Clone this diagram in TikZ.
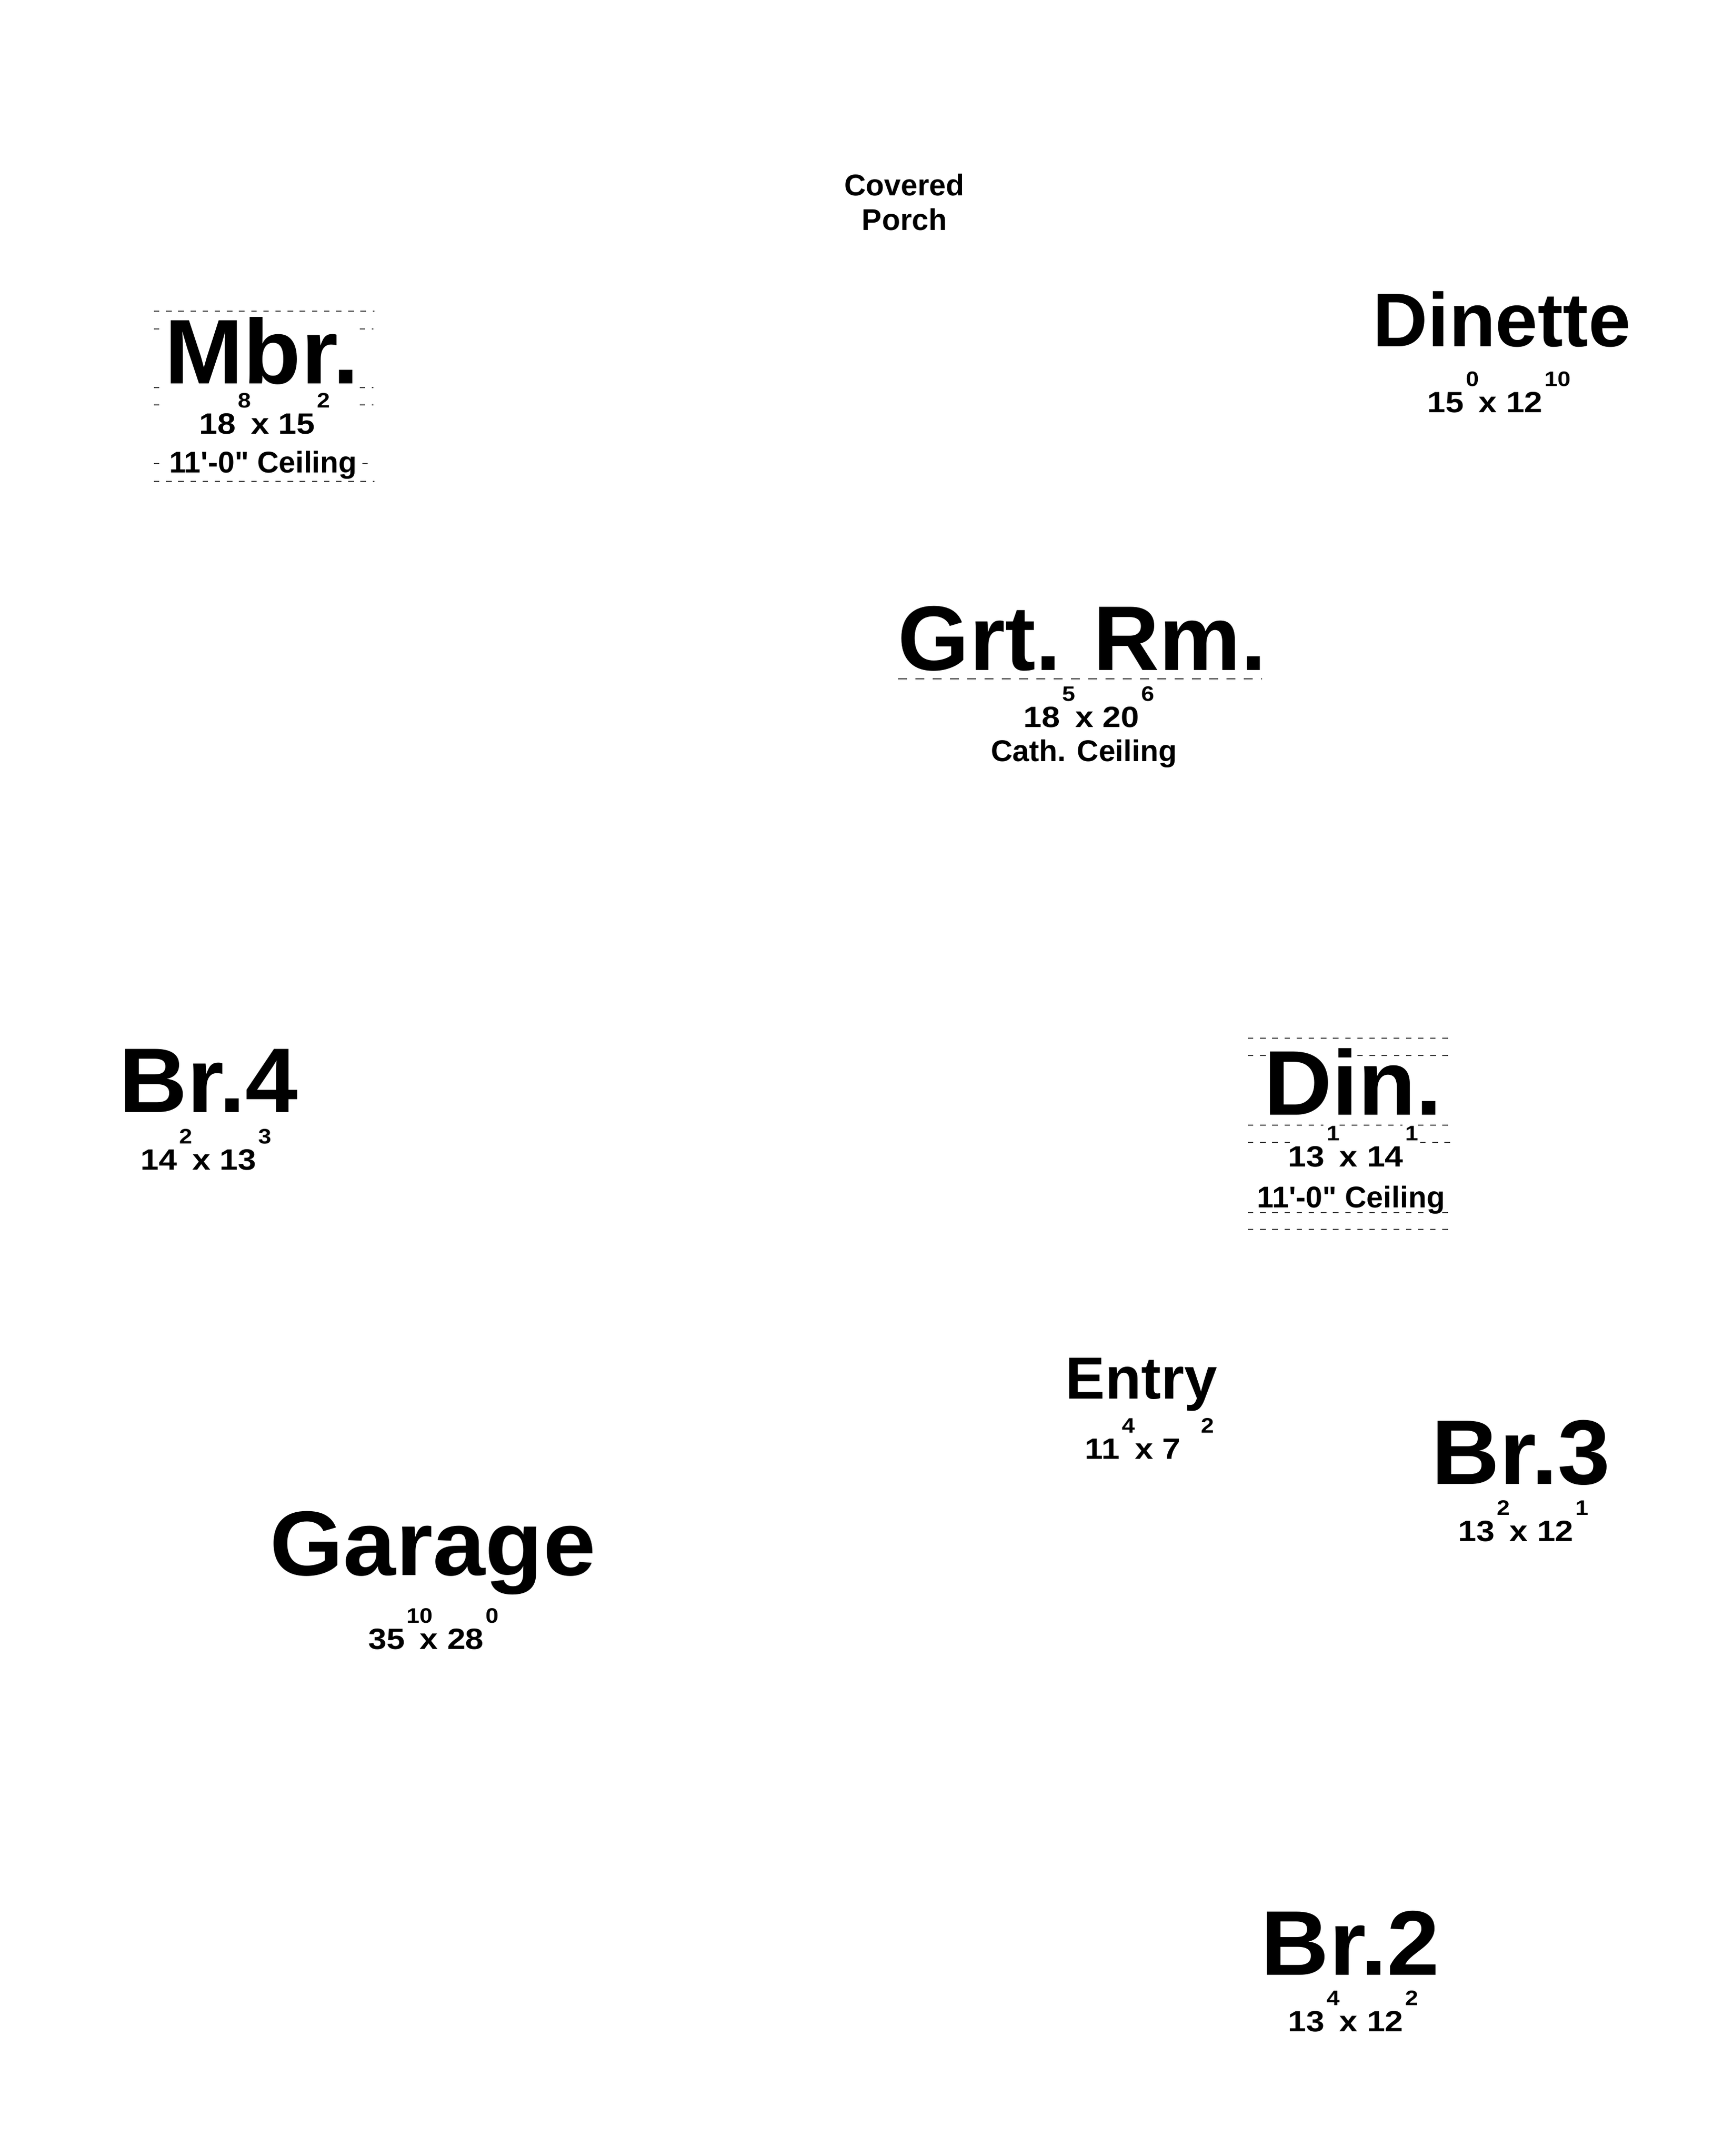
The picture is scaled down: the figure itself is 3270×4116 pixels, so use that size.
\documentclass[tikz,border=0pt]{standalone}
\usepackage{fontspec}
\newfontfamily\lsans{Liberation Sans}
\newfontfamily\bigf{Liberation Sans}[FakeStretch=1.03]
\newfontfamily\dimf{Liberation Sans}[FakeStretch=1.12]
\newcommand\supd[1]{\raisebox{12.5pt}{\fontsize{10}{10}\selectfont #1}}
\newcommand\dimn[4]{{\dimf\bfseries\fontsize{14}{16}\selectfont #1\kern1pt\makebox[6.2pt][l]{\supd{#2}}x #3\kern1pt\supd{#4}}}
\begin{document}
\begin{tikzpicture}[x=0.25pt,y=-0.25pt,
  lbl/.style={anchor=base,inner sep=0pt},
  big/.style={lbl,font=\bigf\bfseries\fontsize{43.8}{48}\selectfont},
  small/.style={lbl,font=\lsans\bfseries\fontsize{14.3}{16}\selectfont},
  dims/.style={lbl},
  gl/.style={draw=black!75,line width=0.4pt,dash pattern=on 2.6pt off 3.2pt},
  gl2/.style={draw=black!80,line width=0.5pt,dash pattern=on 4.25pt off 4pt}]
\useasboundingbox (0,0) rectangle (3270,4116);

% Covered Porch
\node[small] (cov) at (1727,373) {Covered};
\node[small] (por) at (1727,439) {Porch};

% Dinette
\node[lbl,font=\lsans\bfseries\fontsize{36.3}{40}\selectfont] (dinette) at (2868,661) {Dinette};
\node[dims] (dinetted) at (2862.5,787) {\dimn{15}{0}{12}{10}};

% Mbr.
\draw[gl] (294,594) -- (715,594);
\draw[gl] (294,628) -- (310,628);
\draw[gl] (687,628) -- (713,628);
\draw[gl] (294,740) -- (310,740);
\draw[gl] (687,740) -- (713,740);
\draw[gl] (294,773) -- (312,773);
\draw[gl] (687,773) -- (713,773);
\draw[gl] (294,885) -- (317,885);
\draw[gl] (692,885) -- (713,885);
\draw[gl] (294,919) -- (715,919);
\node[big] (mbr) at (500,732) {Mbr.};
\node[dims] (mbrd) at (505.5,828) {\dimn{18}{8}{15}{2}};
\node[small] (mbrc) at (502.5,902) {11'-0" Ceiling};

% Grt. Rm.
\draw[gl2] (1715,1296) -- (2410,1296);
\node[lbl,font=\lsans\bfseries\fontsize{43.8}{48}\selectfont] (grt) at (2066.5,1279) {Grt.\kern-1pt{} Rm.};
\node[dims] (grtd) at (2079.5,1388) {\dimn{18}{5}{20}{6}};
\node[small] (grtc) at (2070,1453) {Cath. Ceiling};

% Br.4
\node[big] (br4) at (398,2123) {Br.4};
\node[dims] (br4d) at (393.5,2233) {\dimn{14}{2}{13}{3}};

% Din.
\draw[gl] (2383,1982) -- (2777,1982);
\draw[gl] (2383,2015) -- (2420,2015);
\draw[gl] (2592,2015) -- (2777,2015);
\draw[gl] (2383,2148) -- (2527,2148);
\draw[gl] (2558,2148) -- (2678,2148);
\draw[gl] (2708,2148) -- (2777,2148);
\draw[gl] (2383,2181) -- (2470,2181);
\draw[gl] (2712,2181) -- (2777,2181);
\draw[gl] (2383,2315) -- (2770,2315);
\draw[gl] (2383,2347) -- (2777,2347);
\node[big] (din) at (2583.5,2128) {Din.};
\node[dims] (dind) at (2584,2227) {\dimn{13}{1}{14}{1}};
\node[small] (dinc) at (2580,2305) {11'-0" Ceiling};

% Entry
\node[lbl,font=\lsans\bfseries\fontsize{28.3}{32}\selectfont] (entry) at (2179.5,2670) {Entry};
\node[dims] (entryd) at (2195,2785) {\dimn{11}{4}{7\phantom{0}}{2}};

% Br.3
\node[big] (br3) at (2904,2833) {Br.3};
\node[dims] (br3d) at (2909,2942) {\dimn{13}{2}{12}{1}};

% Garage
\node[big] (garage) at (826.5,3007) {Garage};
\node[dims] (garaged) at (828,3148) {\dimn{35}{10}{28}{0}};

% Br.2
\node[big] (br2) at (2578.5,3770) {Br.2};
\node[dims] (br2d) at (2584,3878) {\dimn{13}{4}{12}{2}};
\end{tikzpicture}
\end{document}
